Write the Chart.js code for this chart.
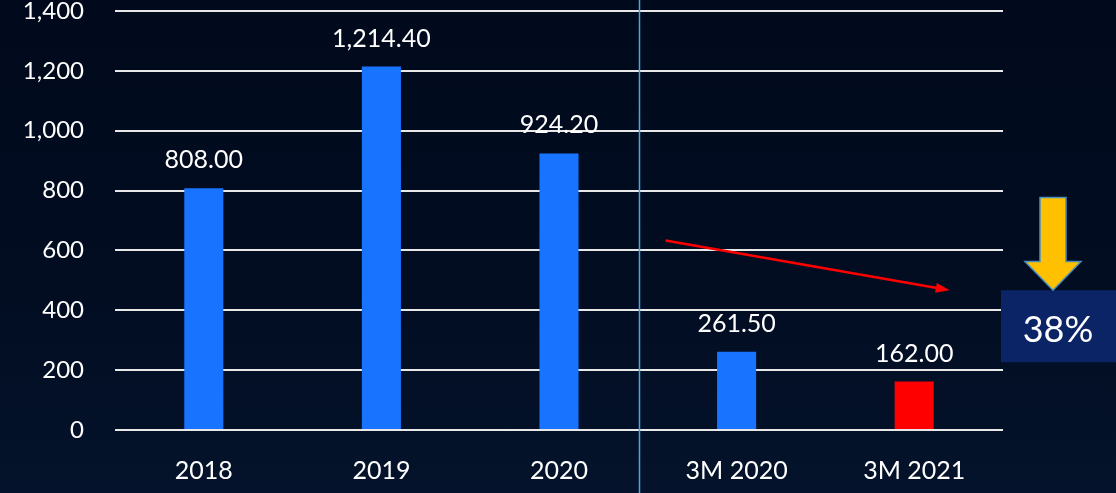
<!DOCTYPE html>
<html>
<head>
<meta charset="utf-8">
<script src="https://cdn.jsdelivr.net/npm/chart.js@4/dist/chart.umd.min.js"></script>
<style>
  html, body { margin: 0; padding: 0; overflow: hidden;
    background: linear-gradient(180deg, #010a1c 0%, #020d22 60%, #04132b 100%); }
  canvas { display: block; }
</style>
</head>
<body>
<canvas id="c" width="1116" height="493"></canvas>
<script>
const categories = ['2018', '2019', '2020', '3M 2020', '3M 2021'];
const values = [808.00, 1214.40, 924.20, 261.50, 162.00];
const barColors = ['#1874ff', '#1874ff', '#1874ff', '#1874ff', '#ff0000'];
const yTicks = [0, 200, 400, 600, 800, 1000, 1200, 1400];
const changeLabel = '38%';
// trend arrow endpoints, in data units (category index, value)
const trendFrom = [2.6, 633];
const trendTo = [4.2, 467];

const FONT = 'Lato, "Noto Sans", sans-serif';

const fmt = v => v.toLocaleString('en-US', { minimumFractionDigits: 2, maximumFractionDigits: 2 });

const decor = {
  id: 'decor',
  afterDatasetsDraw(chart) {
    const { ctx, scales: { x, y }, chartArea } = chart;
    ctx.save();

    // value labels
    ctx.fillStyle = '#ffffff';
    ctx.font = '25px ' + FONT;
    ctx.textAlign = 'center';
    ctx.textBaseline = 'middle';
    values.forEach((v, i) => {
      ctx.fillText(fmt(v), x.getPixelForValue(i), y.getPixelForValue(v) - 28);
    });

    // divider between annual and quarterly
    const dx = Math.round(x.getPixelForValue(2) * 0.55 + x.getPixelForValue(3) * 0.45) + 0.5;
    ctx.strokeStyle = '#4aa6e6';
    ctx.lineWidth = 1.5;
    ctx.beginPath();
    ctx.moveTo(dx, 0);
    ctx.lineTo(dx, chart.height);
    ctx.stroke();

    // red trend arrow
    const x1 = x.getPixelForValue(trendFrom[0]), y1 = y.getPixelForValue(trendFrom[1]);
    const x2 = x.getPixelForValue(trendTo[0]), y2 = y.getPixelForValue(trendTo[1]);
    const ang = Math.atan2(y2 - y1, x2 - x1);
    ctx.strokeStyle = '#ff0000';
    ctx.fillStyle = '#ff0000';
    ctx.lineWidth = 2.5;
    ctx.beginPath();
    ctx.moveTo(x1, y1);
    ctx.lineTo(x2 - 10 * Math.cos(ang), y2 - 10 * Math.sin(ang));
    ctx.stroke();
    ctx.beginPath();
    ctx.moveTo(x2, y2);
    ctx.lineTo(x2 - 14 * Math.cos(ang) + 5 * Math.sin(ang), y2 - 14 * Math.sin(ang) - 5 * Math.cos(ang));
    ctx.lineTo(x2 - 14 * Math.cos(ang) - 5 * Math.sin(ang), y2 - 14 * Math.sin(ang) + 5 * Math.cos(ang));
    ctx.closePath();
    ctx.fill();

    // percent box
    const bx = chartArea.right - 2, by = y.getPixelForValue(467);
    ctx.fillStyle = '#0a2466';
    ctx.fillRect(bx, by, chart.width - bx, 72);
    ctx.fillStyle = '#ffffff';
    ctx.font = '36px ' + FONT;
    ctx.fillText(changeLabel, bx + 57, by + 40);

    // yellow down arrow
    const ax = bx + 52, top = y.getPixelForValue(777);
    ctx.fillStyle = '#ffc000';
    ctx.strokeStyle = '#4a8fc0';
    ctx.lineWidth = 1.5;
    ctx.beginPath();
    ctx.moveTo(ax - 13, top);
    ctx.lineTo(ax + 13, top);
    ctx.lineTo(ax + 13, top + 64);
    ctx.lineTo(ax + 28, top + 64);
    ctx.lineTo(ax, by);
    ctx.lineTo(ax - 28, top + 64);
    ctx.lineTo(ax - 13, top + 64);
    ctx.closePath();
    ctx.fill();
    ctx.stroke();

    ctx.restore();
  }
};

new Chart(document.getElementById('c'), {
  type: 'bar',
  data: {
    labels: categories,
    datasets: [{
      data: values,
      backgroundColor: barColors,
      borderWidth: 0,
      barPercentage: 0.22,
      categoryPercentage: 1
    }]
  },
  options: {
    responsive: false,
    animation: false,
    layout: { autoPadding: false, padding: { top: 11, right: 113, bottom: 0, left: 0 } },
    scales: {
      x: {
        afterFit: axis => { axis.height = 63; axis.paddingLeft = 0; axis.paddingRight = 0; },
        grid: { display: false, drawTicks: false },
        border: { display: false },
        ticks: { color: '#ffffff', font: { family: FONT, size: 25 }, padding: 26 }
      },
      y: {
        min: yTicks[0],
        max: yTicks[yTicks.length - 1],
        afterFit: axis => { axis.width = 115; axis.paddingTop = 0; axis.paddingBottom = 0; },
        grid: { color: '#e8e8e8', lineWidth: 2, drawTicks: false },
        border: { display: false },
        ticks: {
          stepSize: yTicks[1] - yTicks[0],
          color: '#ffffff',
          font: { family: FONT, size: 24 },
          padding: 31,
          callback: v => v.toLocaleString('en-US')
        }
      }
    },
    plugins: { legend: { display: false }, tooltip: { enabled: false } }
  },
  plugins: [decor]
});
</script>
</body>
</html>
